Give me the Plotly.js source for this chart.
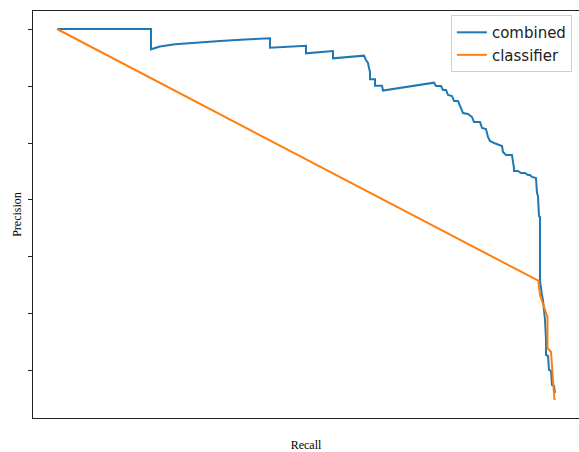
<!DOCTYPE html>
<html>
<head>
<meta charset="utf-8">
<script src="https://cdn.plot.ly/plotly-3.0.1.min.js"></script>
<style>html,body{margin:0;padding:0;background:#fff;}#chart{width:579px;height:452px;}</style>
</head>
<body>
<div id="chart"></div>
<script>
var seriesNames = ["combined", "classifier"];

var combinedRecall = [0, 0.1884, 0.1884, 0.2064, 0.2365, 0.2766, 0.3267, 0.3768, 0.4269, 0.4269,
  0.4990, 0.4990, 0.5531, 0.5531, 0.6152, 0.6192, 0.6232, 0.6253, 0.6273, 0.6273,
  0.6373, 0.6373, 0.6513, 0.6533, 0.7555, 0.7595, 0.7695, 0.7735, 0.7796, 0.7836,
  0.7916, 0.7956, 0.8036, 0.8096, 0.8136, 0.8236, 0.8317, 0.8357, 0.8477, 0.8517,
  0.8597, 0.8637, 0.8677, 0.8758, 0.8878, 0.8918, 0.8938, 0.8998, 0.9118, 0.9138,
  0.9158, 0.9158, 0.9238, 0.9299, 0.9379, 0.9439, 0.9479, 0.9519, 0.9579, 0.9599,
  0.9619, 0.9639, 0.9659, 0.9679, 0.9679, 0.9699, 0.9719, 0.9739, 0.9760, 0.9780,
  0.9800, 0.9800, 0.9840, 0.9860, 0.9900, 0.9920, 0.9960, 0.9980];
var combinedPrecision = [1.0, 1.0, 0.9644, 0.9693, 0.9732, 0.9763, 0.9789, 0.9816, 0.9837, 0.9672,
  0.9707, 0.9574, 0.9614, 0.9486, 0.9532, 0.9456, 0.9404, 0.9316, 0.9246, 0.9118,
  0.9118, 0.9005, 0.9005, 0.8921, 0.9058, 0.9000, 0.9000, 0.8930, 0.8930, 0.8842,
  0.8825, 0.8737, 0.8737, 0.8614, 0.8526, 0.8509, 0.8456, 0.8368, 0.8368, 0.8263,
  0.8246, 0.8105, 0.8035, 0.8000, 0.7965, 0.7947, 0.7842, 0.7789, 0.7789, 0.7702,
  0.7561, 0.7509, 0.7509, 0.7474, 0.7474, 0.7439, 0.7439, 0.7404, 0.7386, 0.7386,
  0.7123, 0.7070, 0.6719, 0.6702, 0.5579, 0.5386, 0.5333, 0.5246, 0.5070, 0.4895,
  0.4544, 0.4281, 0.4263, 0.4018, 0.4000, 0.3754, 0.3737, 0.3614];

var classifierRecall = [0, 0.9645, 0.9679, 0.9760, 0.9780, 0.9830, 0.9830, 0.9900, 0.9940, 0.9970];
var classifierPrecision = [1.0, 0.5584, 0.5333, 0.5140, 0.5070, 0.4947, 0.4404, 0.4333, 0.3842, 0.3491];

var yTickVals = [0.4, 0.5, 0.6, 0.7, 0.8, 0.9, 1.0];

var traces = [
  {x: combinedRecall, y: combinedPrecision, name: seriesNames[0], mode: "lines",
   line: {color: "#1f77b4", width: 2}},
  {x: classifierRecall, y: classifierPrecision, name: seriesNames[1], mode: "lines",
   line: {color: "#ff7f0e", width: 2}}
];

var layout = {
  width: 579, height: 452,
  margin: {l: 33, r: 0, t: 11, b: 34},
  paper_bgcolor: "#fff", plot_bgcolor: "#fff",
  showlegend: true,
  legend: {x: 0.987, xanchor: "right", y: 0.99, yanchor: "top",
    bgcolor: "rgba(255,255,255,0.8)", bordercolor: "#d0d0d0", borderwidth: 1,
    font: {family: "DejaVu Sans", size: 15, color: "#222"}},
  xaxis: {range: [-0.0481, 1.0461], showgrid: false, zeroline: false,
    showline: true, mirror: true, linecolor: "#222", linewidth: 1,
    ticks: "", showticklabels: false,
    title: {text: "Recall", font: {family: "Liberation Serif", size: 12, color: "#000"}, standoff: 25}},
  yaxis: {range: [0.3175, 1.0316], showgrid: false, zeroline: false,
    showline: true, linecolor: "#222", linewidth: 1,
    tickmode: "array", tickvals: yTickVals, ticks: "outside", ticklen: 4, tickcolor: "#222",
    showticklabels: false,
    title: {text: "Precision", font: {family: "Liberation Serif", size: 12, color: "#000"}, standoff: 3}}
};

Plotly.newPlot("chart", traces, layout, {displayModeBar: false, staticPlot: true});
</script>
</body>
</html>
